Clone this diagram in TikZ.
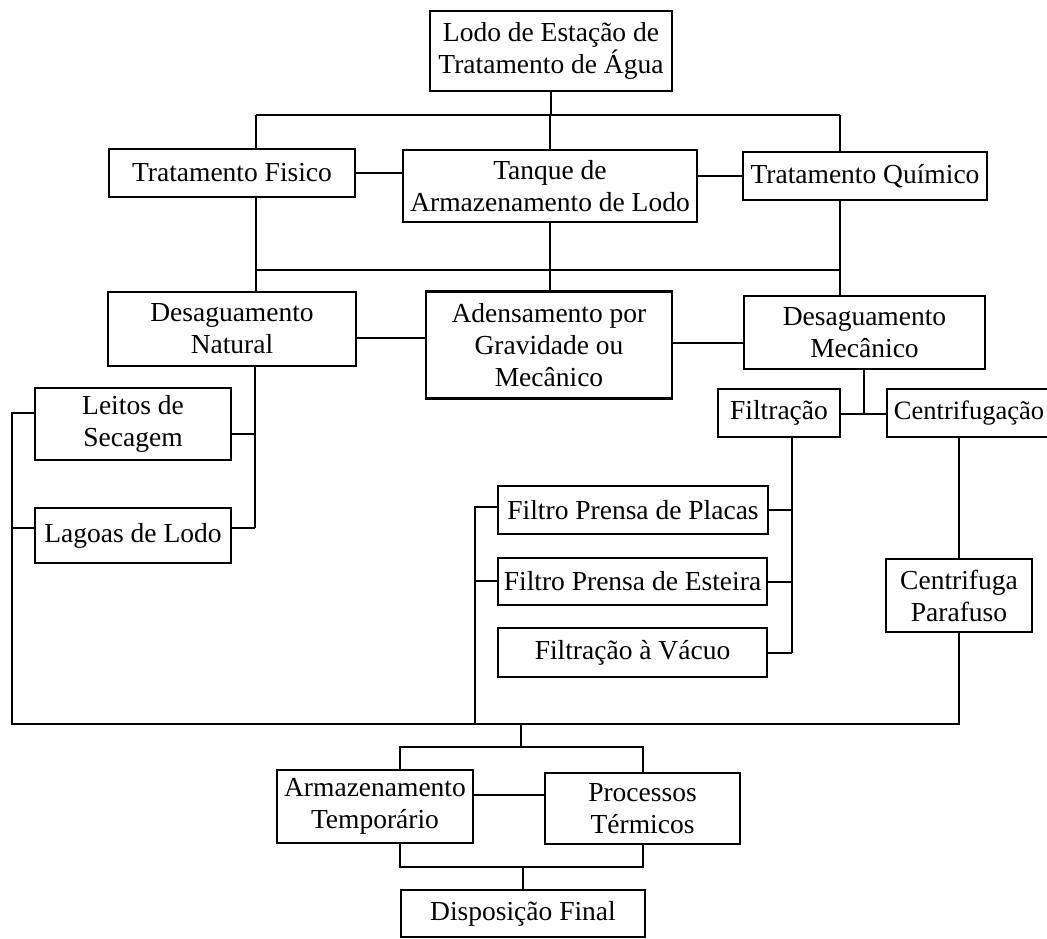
\documentclass[tikz,border=0pt]{standalone}
\usepackage{fontspec}
\setmainfont{Liberation Serif}
\begin{document}
\begin{tikzpicture}[x=1pt,y=-1pt,
  box/.style={draw, line width=2.2pt, align=center, inner sep=0pt, font=\fontsize{27.5}{32}\selectfont},
  conn/.style={line width=1.7pt}]
\useasboundingbox (0,0) rectangle (1047,938);
\fill[white] (0,0) rectangle (1047,938);
% nodes
\node[box, minimum width=242pt, minimum height=80pt] (top) at (551,51) {Lodo de Estação de\\Tratamento de Água};
\node[box, minimum width=246pt, minimum height=48pt] (fis) at (232,173) {Tratamento Fisico};
\node[box, minimum width=294pt, minimum height=72pt] (tan) at (550,186) {Tanque de\\Armazenamento de Lodo};
\node[box, minimum width=244pt, minimum height=48pt] (qui) at (865,176) {Tratamento Químico};
\node[box, minimum width=248pt, minimum height=74pt] (nat) at (232,329) {Desaguamento\\Natural};
\node[box, minimum width=246pt, minimum height=107pt] (ade) at (549,345) {Adensamento por\\Gravidade ou\\Mecânico};
\node[box, minimum width=241pt, minimum height=73pt] (mec) at (864.5,332.5) {Desaguamento\\Mecânico};
\node[box, minimum width=196pt, minimum height=72pt] (lei) at (133,424) {Leitos de\\Secagem};
\node[box, minimum width=196pt, minimum height=55pt] (lag) at (133,535.5) {Lagoas de Lodo};
\node[box, minimum width=122pt, minimum height=48pt] (fil) at (779,413) {Filtração};
\node[box, minimum width=164pt, minimum height=48pt, font=\fontsize{26.5}{32}\selectfont] (cen) at (969,413) {Centrifugação};
\node[box, minimum width=270pt, minimum height=48pt] (pla) at (633,510) {Filtro Prensa de Placas};
\node[box, minimum width=269pt, minimum height=47pt] (est) at (632.5,581.5) {Filtro Prensa de Esteira};
\node[box, minimum width=269pt, minimum height=49pt] (vac) at (632.5,652.5) {Filtração à Vácuo};
\node[box, minimum width=146pt, minimum height=73pt] (par) at (959,595.5) {Centrifuga\\Parafuso};
\node[box, minimum width=196pt, minimum height=73pt] (arm) at (375,806.5) {Armazenamento\\Temporário};
\node[box, minimum width=195pt, minimum height=71pt] (pro) at (642.5,808.5) {Processos\\Térmicos};
\node[box, minimum width=244pt, minimum height=47pt] (dis) at (523,913.5) {Disposição Final};
% helper coordinates
\coordinate (b1l) at (256,115);
\coordinate (b1r) at (840,115);
\coordinate (b2l) at (256,270);
\coordinate (b2r) at (840,270);
\coordinate (h1) at (0,338);
\coordinate (h2) at (0,343);
\coordinate (tn) at (255,528);
\coordinate (h3) at (0,434);
\coordinate (tl) at (12,413);
\coordinate (bl) at (12,724);
\coordinate (br) at (959,724);
\coordinate (h4) at (0,528);
\coordinate (j) at (864,414);
\coordinate (tf) at (792,653);
\coordinate (h5) at (0,510);
\coordinate (h5b) at (0,582);
\coordinate (tp) at (475,507);
\coordinate (h6) at (0,581);
\coordinate (m) at (521,724);
\coordinate (b3l) at (400,747);
\coordinate (b3r) at (643,747);
\coordinate (h7) at (0,795);
\coordinate (b4l) at (400,867);
\coordinate (b4r) at (643,867);
% connectors: top level
\draw[conn] (top.south) -- (top.south |- b1l);
\draw[conn] (b1l) -- (b1r);
\draw[conn] (b1l) -- (b1l |- fis.north);
\draw[conn] (tan.north) -- (tan.north |- b1l);
\draw[conn] (b1r) -- (b1r |- qui.north);
\draw[conn] (fis.east) -- (tan.west |- fis.east);
\draw[conn] (tan.east |- qui.west) -- (qui.west);
% second level
\draw[conn] (b2l |- fis.south) -- (b2l |- nat.north);
\draw[conn] (b2l) -- (b2r);
\draw[conn] (tan.south) -- (tan.south |- ade.north);
\draw[conn] (b2r |- qui.south) -- (b2r |- mec.north);
\draw[conn] (nat.east |- h1) -- (ade.west |- h1);
\draw[conn] (ade.east |- h2) -- (mec.west |- h2);
% natural dewatering branch
\draw[conn] (tn |- nat.south) -- (tn);
\draw[conn] (lei.east |- h3) -- (tn |- h3);
\draw[conn] (lag.east |- tn) -- (tn);
\draw[conn] (lei.west |- tl) -- (tl) -- (bl) -- (br) -- (br |- par.south);
\draw[conn] (lag.west |- h4) -- (bl |- h4);
% mechanical branch
\draw[conn] (j |- mec.south) -- (j);
\draw[conn] (fil.east |- j) -- (cen.west |- j);
\draw[conn] (tf |- fil.south) -- (tf);
\draw[conn] (pla.east |- h5) -- (tf |- h5);
\draw[conn] (est.east |- h5b) -- (tf |- h5b);
\draw[conn] (vac.east |- tf) -- (tf);
\draw[conn] (pla.west |- tp) -- (tp) -- (tp |- bl);
\draw[conn] (est.west |- h6) -- (tp |- h6);
\draw[conn] (par.north |- cen.south) -- (par.north);
% bottom
\draw[conn] (m) -- (m |- b3l);
\draw[conn] (b3l |- arm.north) -- (b3l) -- (b3r) -- (b3r |- pro.north);
\draw[conn] (arm.east |- h7) -- (pro.west |- h7);
\draw[conn] (b4l |- arm.south) -- (b4l) -- (b4r) -- (b4r |- pro.south);
\draw[conn] (dis.north |- b4l) -- (dis.north);
\end{tikzpicture}
\end{document}
